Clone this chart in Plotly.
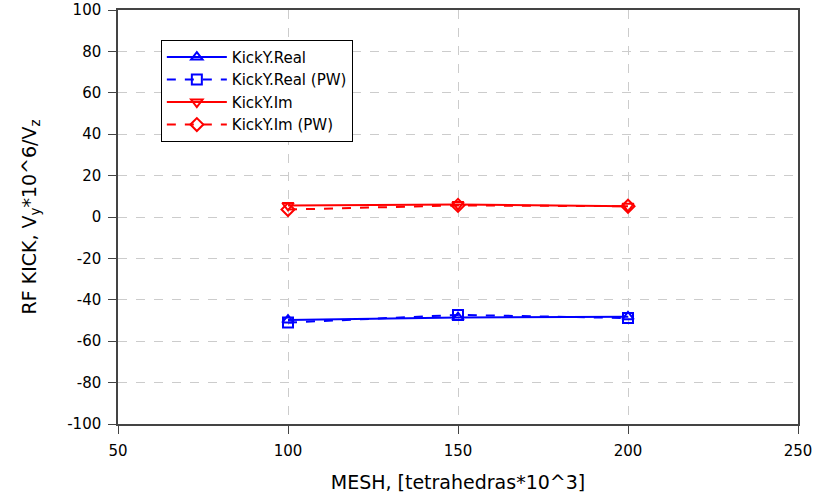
import plotly.graph_objects as go

mesh = [100, 150, 200]
kick_real = [-49.8, -48.6, -48.2]
kick_real_pw = [-51.0, -47.3, -48.8]
kick_im = [5.6, 6.0, 5.2]
kick_im_pw = [3.6, 5.6, 5.2]

x_ticks = [50, 100, 150, 200, 250]
y_ticks = [-100, -80, -60, -40, -20, 0, 20, 40, 60, 80, 100]

series = [
    ("KickY.Real", kick_real, "blue", "solid", "triangle-up-open"),
    ("KickY.Real (PW)", kick_real_pw, "blue", "dash", "square-open"),
    ("KickY.Im", kick_im, "red", "solid", "triangle-down-open"),
    ("KickY.Im (PW)", kick_im_pw, "red", "dash", "diamond-open"),
]

FONT = "DejaVu Sans, Liberation Sans, Arial"

fig = go.Figure()
for name, vals, color, dash, sym in series:
    fig.add_trace(go.Scatter(
        x=mesh, y=vals, name=name, mode="lines+markers",
        line=dict(color=color, width=2, dash=dash),
        marker=dict(symbol=sym, size=10, color=color, line=dict(width=2, color=color)),
    ))

axis_common = dict(
    showline=True, linecolor="#444", linewidth=1.5, mirror=True,
    ticks="outside", ticklen=8, tickcolor="#444",
    showgrid=True, gridcolor="#cccccc", griddash="dash", gridwidth=1,
    zeroline=False, automargin=False,
    tickfont=dict(family=FONT, size=15, color="black"),
)

fig.update_xaxes(range=[50, 250], tickvals=x_ticks,
                 ticktext=[str(v) for v in x_ticks],
                 ticklabelstandoff=4,
                 title=dict(text="MESH, [tetrahedras*10^3]",
                            font=dict(family=FONT, size=19, color="black"),
                            standoff=18),
                 **axis_common)
fig.update_yaxes(range=[-100, 100], tickvals=y_ticks,
                 ticktext=[str(v) for v in y_ticks],
                 ticklabelstandoff=4,
                 title=dict(text="RF KICK, V<sub>y</sub>*10^6/V<sub>z</sub>",
                            font=dict(family=FONT, size=19, color="black"),
                            standoff=26),
                 **axis_common)

fig.update_layout(
    width=829, height=493,
    margin=dict(l=118, r=31, t=10, b=69),
    plot_bgcolor="white", paper_bgcolor="white",
    legend=dict(x=0.063, y=0.928, xanchor="left", yanchor="top",
                bordercolor="black", borderwidth=1, bgcolor="white",
                font=dict(family=FONT, size=15, color="black"),
                tracegroupgap=0, itemwidth=60),
    showlegend=True,
)

fig.write_html("out.html")
